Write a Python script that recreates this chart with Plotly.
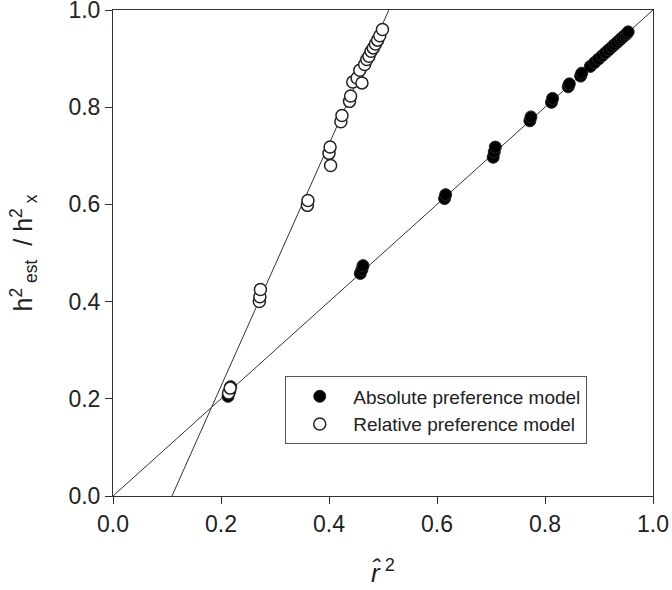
import plotly.graph_objects as go

# absolute preference model (filled circles)
abs_x = [0.213, 0.216, 0.218, 0.458, 0.461, 0.463, 0.614, 0.616,
         0.704, 0.706, 0.708, 0.772, 0.774, 0.812, 0.814, 0.843, 0.845,
         0.866, 0.868, 0.884, 0.892, 0.899, 0.906, 0.912, 0.918, 0.924,
         0.929, 0.934, 0.939, 0.943, 0.947, 0.951, 0.954]
abs_y = [0.205, 0.215, 0.225, 0.458, 0.466, 0.474, 0.612, 0.620,
         0.697, 0.708, 0.718, 0.772, 0.780, 0.810, 0.818, 0.842, 0.848,
         0.864, 0.870, 0.884, 0.892, 0.899, 0.906, 0.912, 0.918, 0.924,
         0.929, 0.934, 0.939, 0.943, 0.947, 0.951, 0.955]

# relative preference model (open circles)
rel_x = [0.214, 0.217, 0.271, 0.272, 0.273, 0.360, 0.361, 0.400, 0.402,
         0.403, 0.422, 0.424, 0.438, 0.440, 0.444, 0.452, 0.457, 0.461,
         0.466, 0.470, 0.474, 0.478, 0.482, 0.486, 0.490, 0.494, 0.499]
rel_y = [0.212, 0.222, 0.400, 0.410, 0.425, 0.598, 0.608, 0.705, 0.718,
         0.680, 0.770, 0.783, 0.812, 0.823, 0.852, 0.860, 0.876, 0.850,
         0.888, 0.898, 0.905, 0.915, 0.922, 0.930, 0.938, 0.947, 0.960]

# fitted lines: y = slope * x + intercept
fit_slope = [1.0, 2.49]
fit_intercept = [0.0, -0.272]
line_x = [0.0, 1.0]

fig = go.Figure()

for s, b in zip(fit_slope, fit_intercept):
    fig.add_trace(go.Scatter(x=line_x, y=[s * v + b for v in line_x], mode="lines",
                             line=dict(color="#333333", width=1), showlegend=False,
                             hoverinfo="skip"))

fig.add_trace(go.Scatter(x=abs_x, y=abs_y, mode="markers", name="Absolute preference model",
                         marker=dict(size=12, color="black",
                                     line=dict(color="#222222", width=1))))
fig.add_trace(go.Scatter(x=rel_x, y=rel_y, mode="markers", name="Relative preference model",
                         marker=dict(size=12, color="white",
                                     line=dict(color="#222222", width=1.5))))

axis_style = dict(range=[0, 1], dtick=0.2, tickformat=".1f", showgrid=False, zeroline=False,
                  showline=True, linecolor="#333333", linewidth=1, mirror=True,
                  ticks="outside", ticklen=7, tickcolor="#333333", automargin=False,
                  ticklabeloverflow="allow",
                  tickfont=dict(size=23, color="#222222"))

fig.update_layout(
    width=672, height=590,
    margin=dict(l=113, r=19, t=10, b=94),
    plot_bgcolor="white", paper_bgcolor="white",
    font=dict(family="Liberation Sans, Arial, sans-serif", color="#222222"),
    xaxis=dict(axis_style, title=dict(text="<i>r̂</i><sup> 2</sup>", font=dict(size=26), standoff=28)),
    yaxis=dict(axis_style, title=dict(text="h<sup>2</sup><sub> est</sub>  / h<sup>2</sup><sub> x</sub>",
                                      font=dict(size=25), standoff=28)),
    legend=dict(x=0.319, y=0.246, xanchor="left", yanchor="top",
                bordercolor="#555555", borderwidth=1, bgcolor="white",
                font=dict(size=19, color="#222222"), itemwidth=57,
                tracegroupgap=0),
)

# page body has a default 8px margin; drop it so the figure sits at the corner
fig.write_html("out.html", config={"displayModeBar": False},
               post_script="document.body.style.margin='0';")
